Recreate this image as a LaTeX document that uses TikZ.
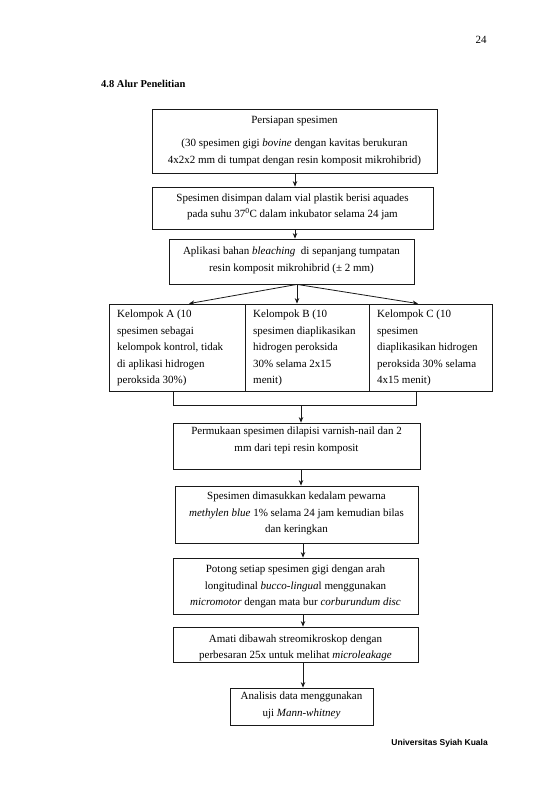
\documentclass[tikz,border=0pt]{standalone}
\usepackage{fontspec}
\setmainfont{Liberation Serif}
\newfontfamily\footsans{Liberation Sans}
\usetikzlibrary{arrows.meta,calc}
\begin{document}
\begin{tikzpicture}[x=1pt,y=-1pt,
  box/.style={draw=black!90, line width=0.8pt, inner sep=0pt},
  txt/.style={font=\fontsize{11}{16.5}\selectfont, align=center, inner sep=0pt},
  ltxt/.style={font=\fontsize{11}{16.5}\selectfont, align=left, anchor=west, inner sep=0pt},
  arr/.style={draw=black!90, line width=0.8pt, -{Stealth[length=5.5pt,width=4.5pt]}},
  ln/.style={draw=black!90, line width=0.8pt}]
\useasboundingbox (0,0) rectangle (549,805);

% header / footer
\node[font=\fontsize{11}{13}\selectfont] (pn) at (481,40) {24};
\node[font=\fontsize{10.5}{12}\selectfont\bfseries, anchor=west, inner sep=0pt] (hd) at (101,84) {4.8 Alur Penelitian};
\node[font=\footsans\bfseries\fontsize{8.5}{10}\selectfont, anchor=east, inner sep=0pt] (ft) at (488,743) {Universitas Syiah Kuala};

% boxes
\node[box, minimum width=285, minimum height=64] (b1) at (294.5,141) {};
\node[box, minimum width=281, minimum height=42] (b2) at (292.5,208) {};
\node[box, minimum width=245, minimum height=45] (b3) at (291.5,261.5) {};
\node[box, minimum width=136, minimum height=87] (kA) at (177,347.5) {};
\node[box, minimum width=124, minimum height=87] (kB) at (307,347.5) {};
\node[box, minimum width=123, minimum height=87] (kC) at (430.5,347.5) {};
\node[box, minimum width=247, minimum height=46] (b4) at (296.5,446) {};
\node[box, minimum width=243, minimum height=57] (b5) at (296.5,514.5) {};
\node[box, minimum width=245, minimum height=56] (b6) at (295.5,586) {};
\node[box, minimum width=245, minimum height=35] (b7) at (295.5,644.5) {};
\node[box, minimum width=143, minimum height=37] (b8) at (301.5,706.5) {};

% texts
\node[txt] (t1) at (294.5,141) {Persiapan spesimen\\[7pt](30 spesimen gigi \textit{bovine} dengan kavitas berukuran\\4x2x2 mm di tumpat dengan resin komposit mikrohibrid)};
\node[txt] (t2) at (292.5,207) {Spesimen disimpan dalam vial plastik berisi aquades\\pada suhu 37\textsuperscript{0}C dalam inkubator selama 24 jam};
\node[txt] (t3) at (291.5,260.5) {Aplikasi bahan \textit{bleaching}\ \ di sepanjang tumpatan\\resin komposit mikrohibrid (± 2 mm)};
\node[ltxt] (tA) at (117,348) {Kelompok A (10\\spesimen sebagai\\kelompok kontrol, tidak\\di aplikasi hidrogen\\peroksida 30\%)};
\node[ltxt] (tB) at (253,348) {Kelompok B (10\\spesimen diaplikasikan\\hidrogen peroksida\\30\% selama 2x15\\menit)};
\node[ltxt] (tC) at (377,348) {Kelompok C (10\\spesimen\\diaplikasikan hidrogen\\peroksida 30\% selama\\4x15 menit)};
\node[txt] (t4) at (296.5,440.5) {Permukaan spesimen dilapisi varnish-nail dan 2\\mm dari tepi resin komposit};
\node[txt] (t5) at (296.5,513.5) {Spesimen dimasukkan kedalam pewarna\\\textit{methylen blue} 1\% selama 24 jam kemudian bilas\\dan keringkan};
\node[txt] (t6) at (295.5,586.5) {Potong setiap spesimen gigi dengan arah\\longitudinal \textit{bucco-lingua}l menggunakan\\\textit{micromotor} dengan mata bur \textit{corburundum disc}};
\node[txt] (t7) at (295.5,648) {Amati dibawah streomikroskop dengan\\perbesaran 25x untuk melihat \textit{microleakage}};
\node[txt] (t8) at (301.5,705.5) {Analisis data menggunakan\\uji \textit{Mann-whitney}};

% connectors
\coordinate (xa) at (295,0);
\coordinate (xb) at (297,0);
\coordinate (xc) at (301,0);
\coordinate (xd) at (303,0);
\coordinate (pA) at (189,0);
\coordinate (pC) at (418,0);
\coordinate (bl) at (173,405);
\coordinate (br) at (416,405);

\draw[arr] (b1.south -| xa) -- (b2.north -| xa);
\draw[arr] (b2.south -| xa) -- (b3.north -| xa);
\draw[arr] (b3.south -| xb) -- (kA.north -| pA);
\draw[arr] (b3.south -| xb) -- (kB.north -| xb);
\draw[arr] (b3.south -| xb) -- (kC.north -| pC);
\draw[ln] (kA.south -| bl) -- (bl) -- (br) -- (kC.south -| br);
\draw[arr] (bl -| xc) -- (b4.north -| xc);
\draw[arr] (b4.south -| xc) -- (b5.north -| xc);
\draw[arr] (b5.south -| xd) -- (b6.north -| xd);
\draw[arr] (b6.south -| xd) -- (b7.north -| xd);
\draw[arr] (b7.south -| xd) -- (b8.north -| xd);
\end{tikzpicture}
\end{document}
